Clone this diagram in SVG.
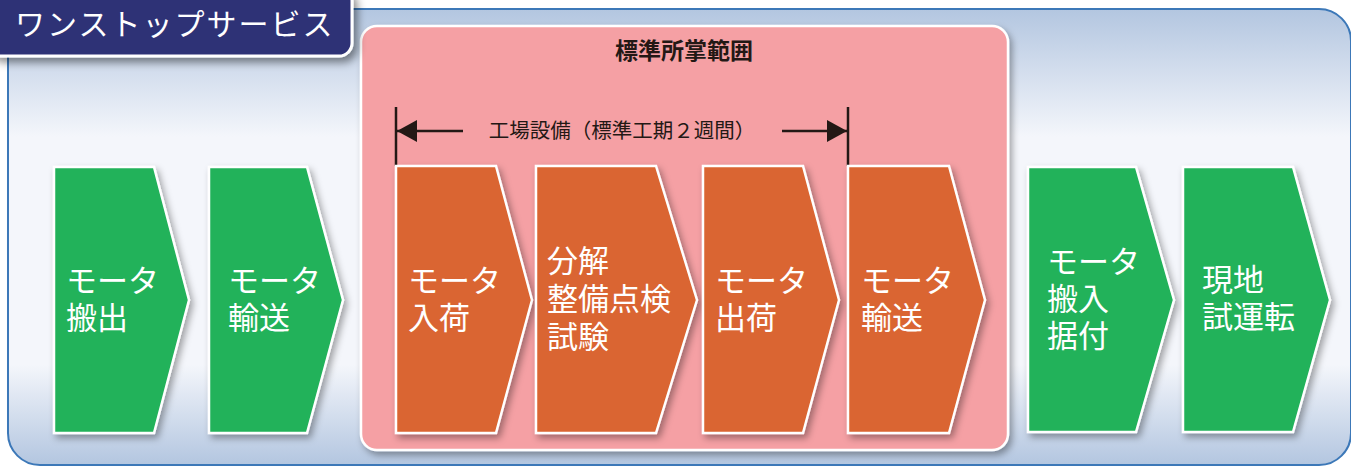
<svg xmlns="http://www.w3.org/2000/svg" width="1351" height="468" viewBox="0 0 1351 468">
  <defs>
    <linearGradient id="bgGrad" x1="0" y1="0" x2="0" y2="1">
      <stop offset="0" stop-color="#b3c6e0"/>
      <stop offset="0.28" stop-color="#f4f6fb"/>
      <stop offset="0.78" stop-color="#f4f6fb"/>
      <stop offset="1" stop-color="#b3c6e0"/>
    </linearGradient>
    <filter id="shadow" x="-20%" y="-20%" width="150%" height="150%">
      <feDropShadow dx="3" dy="4" stdDeviation="3.5" flood-color="#000" flood-opacity="0.35"/>
    </filter>
    <filter id="badgeShadow" x="-20%" y="-40%" width="150%" height="200%">
      <feDropShadow dx="4" dy="5" stdDeviation="4" flood-color="#000" flood-opacity="0.45"/>
    </filter>
    <marker id="arrowHead" viewBox="0 0 20 22" refX="20" refY="11" markerWidth="20" markerHeight="22" markerUnits="userSpaceOnUse" orient="auto">
      <path d="M0,0 L20,11 L0,22 Z" fill="#231815"/>
    </marker>
    <style>
      .jp { font-family: "Noto Sans CJK JP", "Noto Sans CJK SC", sans-serif; }
      .step { stroke: #ffffff; stroke-width: 2.5; stroke-linejoin: miter; filter: url(#shadow); }
      .green { fill: #20b25a; }
      .orange { fill: #da6530; }
      .lbl { font-family: "Noto Sans CJK JP", "Noto Sans CJK SC", sans-serif; font-size: 31px; fill: #ffffff; }
      .dim { stroke: #231815; stroke-width: 2.5; fill: none; }
    </style>
  </defs>

  <!-- outer container -->
  <g id="container">
    <rect x="8" y="9" width="1343" height="456" rx="32" ry="32" fill="url(#bgGrad)" stroke="#3c78b8" stroke-width="2"/>
  </g>

  <!-- standard scope box -->
  <g id="scope">
    <rect x="361" y="26" width="647" height="424" rx="16" ry="16" fill="#f5a0a4" stroke="#ffffff" stroke-width="2.5" filter="url(#shadow)"/>
    <text class="jp" x="684" y="59" text-anchor="middle" font-size="23" font-weight="bold" fill="#231815">標準所掌範囲</text>
  </g>

  <!-- title badge -->
  <g id="badge">
    <rect x="-12" y="-12" width="364" height="68" rx="13" ry="13" fill="#2e3176" stroke="#ffffff" stroke-width="3" filter="url(#badgeShadow)"/>
    <text class="jp" x="15" y="35" font-size="30" fill="#ffffff" letter-spacing="2">ワンストップサービス</text>
  </g>

  <!-- connectors: dimension line for factory work -->
  <g id="connectors">
    <line class="dim" x1="396" y1="107" x2="396" y2="166"/>
    <line class="dim" x1="848" y1="107" x2="848" y2="166"/>
    <line class="dim" x1="463" y1="131" x2="397" y2="131" marker-end="url(#arrowHead)"/>
    <line class="dim" x1="782" y1="131" x2="847" y2="131" marker-end="url(#arrowHead)"/>
    <text class="jp" x="622" y="138" text-anchor="middle" font-size="20.5" fill="#231815">工場設備（標準工期２週間）</text>
  </g>

  <!-- steps -->
  <g id="step1">
    <polygon class="step green" points="54,167 154,167 189,300 154,433 54,433"/>
    <text class="lbl" x="66" y="292">モータ<tspan x="66" dy="37">搬出</tspan></text>
  </g>
  <g id="step2">
    <polygon class="step green" points="209,167 307,167 343,300 307,433 209,433"/>
    <text class="lbl" x="228" y="292">モータ<tspan x="228" dy="37">輸送</tspan></text>
  </g>
  <g id="step3">
    <polygon class="step orange" points="396,166 496,166 532,300 496,433 396,433"/>
    <text class="lbl" x="408" y="292">モータ<tspan x="408" dy="37">入荷</tspan></text>
  </g>
  <g id="step4">
    <polygon class="step orange" points="536,166 656,166 697,300 656,433 536,433"/>
    <text class="lbl" x="547" y="272">分解<tspan x="547" dy="38">整備点検</tspan><tspan x="547" dy="38">試験</tspan></text>
  </g>
  <g id="step5">
    <polygon class="step orange" points="703,166 803,166 839,300 803,433 703,433"/>
    <text class="lbl" x="715" y="292">モータ<tspan x="715" dy="37">出荷</tspan></text>
  </g>
  <g id="step6">
    <polygon class="step orange" points="848,166 949,166 985,300 949,433 848,433"/>
    <text class="lbl" x="861" y="292">モータ<tspan x="861" dy="37">輸送</tspan></text>
  </g>
  <g id="step7">
    <polygon class="step green" points="1028,167 1136,167 1174,300 1136,432 1028,432"/>
    <text class="lbl" x="1047" y="273">モータ<tspan x="1047" dy="37">搬入</tspan><tspan x="1047" dy="37">据付</tspan></text>
  </g>
  <g id="step8">
    <polygon class="step green" points="1183,167 1293,167 1330,300 1293,432 1183,432"/>
    <text class="lbl" x="1202" y="291">現地<tspan x="1202" dy="37">試運転</tspan></text>
  </g>
</svg>
